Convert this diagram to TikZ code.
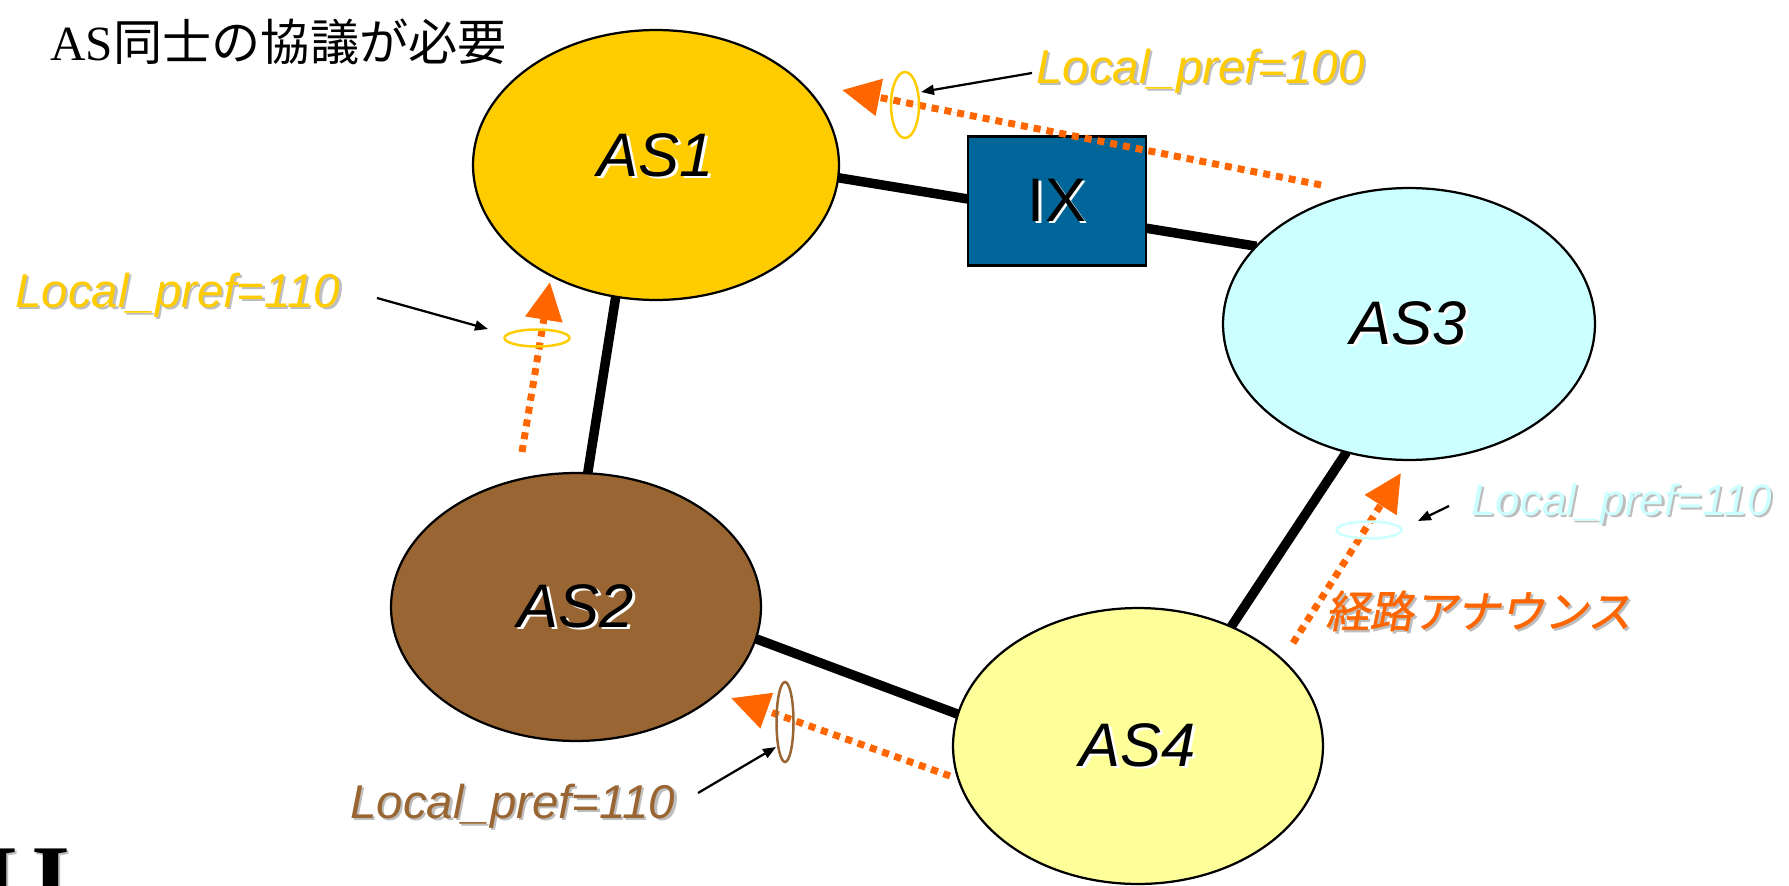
\documentclass[tikz,border=0pt]{standalone}
\usepackage{fontspec}
\usetikzlibrary{arrows.meta,backgrounds,shapes.geometric}
\newfontfamily\arialf{Liberation Sans}
\newfontfamily\serf{Liberation Serif}
\newfontfamily\jpf{Noto Sans CJK JP}
\newfontfamily\jpslf[FakeSlant=0.2,FakeBold=1.2]{Noto Sans CJK JP}
\definecolor{asone}{HTML}{FFCC00}
\definecolor{astwo}{HTML}{996633}
\definecolor{asthree}{HTML}{CCFFFF}
\definecolor{asfour}{HTML}{FFFF99}
\definecolor{ixblue}{HTML}{006699}
\definecolor{annor}{HTML}{FF6600}
\definecolor{shgray}{HTML}{BEBEBE}
\newcommand\shd[3]{\makebox[0pt][l]{\hspace*{0.045cm}\raisebox{-0.045cm}{\textcolor{#2}{#3}}}\textcolor{#1}{#3}}
\begin{document}
\begin{tikzpicture}[x=0.02cm,y=-0.02cm,
  asnode/.style={ellipse,draw=black,line width=0.045cm,inner sep=0pt,outer sep=0pt,
    font=\arialf\itshape\fontsize{35}{40}\selectfont},
  link/.style={line width=0.19cm},
  annarrow/.style={draw=annor,fill=annor,line width=0.14cm,dash pattern=on 0.14cm off 0.12cm,
    -{Triangle[length=0.76cm,width=0.72cm]}},
  ptr/.style={line width=0.045cm,-{Triangle[length=0.26cm,width=0.2cm]}},
  ring/.style={ellipse,draw,line width=0.05cm,inner sep=0pt,outer sep=0pt},
  lbl/.style={anchor=base west,inner sep=0pt,font=\arialf\itshape\fontsize{27}{30}\selectfont}]
\useasboundingbox (0,0) rectangle (1789,886);

% title
\node[anchor=base west,inner sep=0pt] (title) at (50,60)
  {\fontsize{28}{32}\selectfont\serf AS\jpf 同士の協議が必要};

% AS nodes
\node[asnode,fill=asone,minimum width=7.32cm,minimum height=5.4cm] (AS1) at (656,165)
  {\raisebox{0.4cm}{\shd{black}{white}{AS1}}};
\node[asnode,fill=asthree,minimum width=7.44cm,minimum height=5.44cm] (AS3) at (1409,324)
  {\shd{black}{white}{AS3}};
\node[asnode,fill=astwo,minimum width=7.4cm,minimum height=5.36cm] (AS2) at (576,607)
  {\shd{black}{white}{AS2}};
\node[asnode,fill=asfour,minimum width=7.4cm,minimum height=5.52cm] (AS4) at (1138,746)
  {\shd{black}{white}{AS4}};

% links behind
\begin{scope}[on background layer]
\draw[link] (AS1.-4) -- (AS3.153);
\draw[link] (AS1.-107) -- (AS2.85);
\draw[link] (AS2.-10) -- (AS4.170);
\draw[link] (AS3.-116) -- (AS4.52);
\end{scope}

% IX
\node[draw=black,fill=ixblue,line width=0.045cm,minimum width=3.56cm,minimum height=2.58cm,
  inner sep=0pt,font=\arialf\fontsize{35}{40}\selectfont] (IX) at (1057,201)
  {\shd{black}{white}{IX}};

% announcement arrows
\coordinate (a1s) at (1321,185);
\coordinate (a1t) at (842,90);
\coordinate (a2s) at (522,452);
\coordinate (a2t) at (550,282);
\coordinate (a3s) at (1293,643);
\coordinate (a3t) at (1401,473);
\coordinate (a4s) at (950,776);
\coordinate (a4t) at (731,698);
\draw[annarrow] (a1s) -- (a1t);
\draw[annarrow] (a2s) -- (a2t);
\draw[annarrow] (a3s) -- (a3t);
\draw[annarrow] (a4s) -- (a4t);

% rings
\node[ring,draw=asone,minimum width=0.56cm,minimum height=1.32cm] (r1) at (905,105) {};
\node[ring,draw=asone,minimum width=1.3cm,minimum height=0.34cm] (r2) at (537,338) {};
\node[ring,draw=asthree,minimum width=1.3cm,minimum height=0.34cm] (r3) at (1369,530) {};
\node[ring,draw=astwo,minimum width=0.34cm,minimum height=1.6cm] (r4) at (785,722) {};

% labels
\node[lbl] (l1) at (1036,83) {\shd{asone}{shgray}{Local\_pref=100}};
\node[lbl] (l2) at (15,307) {\shd{asone}{shgray}{Local\_pref=110}};
\node[lbl,font=\arialf\itshape\fontsize{25}{28}\selectfont] (l3) at (1471,515) {\shd{asthree}{shgray}{Local\_pref=110}};
\node[lbl] (l4) at (350,818) {\shd{astwo}{shgray}{Local\_pref=110}};
\node[anchor=west,inner sep=0pt,font=\jpslf\fontsize{25}{28}\selectfont] (ann) at (1325,612)
  {\shd{annor}{shgray}{経路アナウンス}};

% pointer arrows
\coordinate (p1s) at (1032,73);
\coordinate (p1e) at (921,92);
\coordinate (p2s) at (377,298);
\coordinate (p2e) at (488,329);
\coordinate (p3s) at (1449,506);
\coordinate (p3e) at (1418,521);
\coordinate (p4s) at (698,793);
\coordinate (p4e) at (776,747);
\draw[ptr] (p1s) -- (p1e);
\draw[ptr] (p2s) -- (p2e);
\draw[ptr] (p3s) -- (p3e);
\draw[ptr] (p4s) -- (p4e);

% clipped logo letters at bottom left
\begin{scope}
\clip (0,0) rectangle (1789,886);
\node[anchor=base west,inner sep=0pt,font=\serf\bfseries\fontsize{57}{60}\selectfont] (lg1) at (-21,914)
  {\shd{black}{shgray}{I}};
\node[anchor=base west,inner sep=0pt,font=\serf\bfseries\fontsize{57}{60}\selectfont] (lg2) at (31,914)
  {\shd{black}{shgray}{I}};
\end{scope}
\end{tikzpicture}
\end{document}
